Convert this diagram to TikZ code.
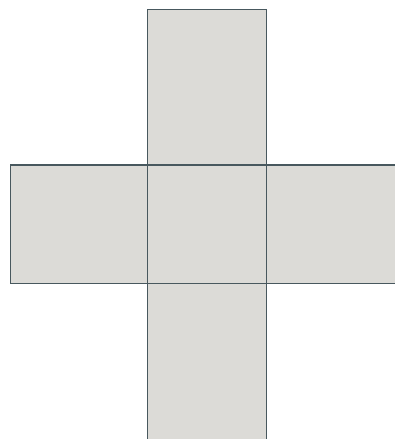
\documentclass[tikz,border=0pt]{standalone}
\usepackage{tikz}
\definecolor{face}{RGB}{220,219,215}
\definecolor{edge}{RGB}{72,88,94}
\tikzset{
  netface/.style={fill=face,draw=edge,line width=1.1pt}
}
\begin{document}
\begin{tikzpicture}[x=1pt,y=-1pt]
 \useasboundingbox (0,0) rectangle (395,439);
 \clip (0,0) rectangle (395,439);
 % column of the net
 \draw[netface] (147.5,9.5) rectangle (266.7,165);
 \draw[netface] (147.5,283.3) rectangle (266.7,445);
 % middle row
 \draw[netface] (10.7,165) rectangle (147.5,283.3);
 \draw[netface] (147.5,165) rectangle (266.7,283.3);
 \draw[netface] (266.7,165) rectangle (400,283.3);
\end{tikzpicture}
\end{document}
